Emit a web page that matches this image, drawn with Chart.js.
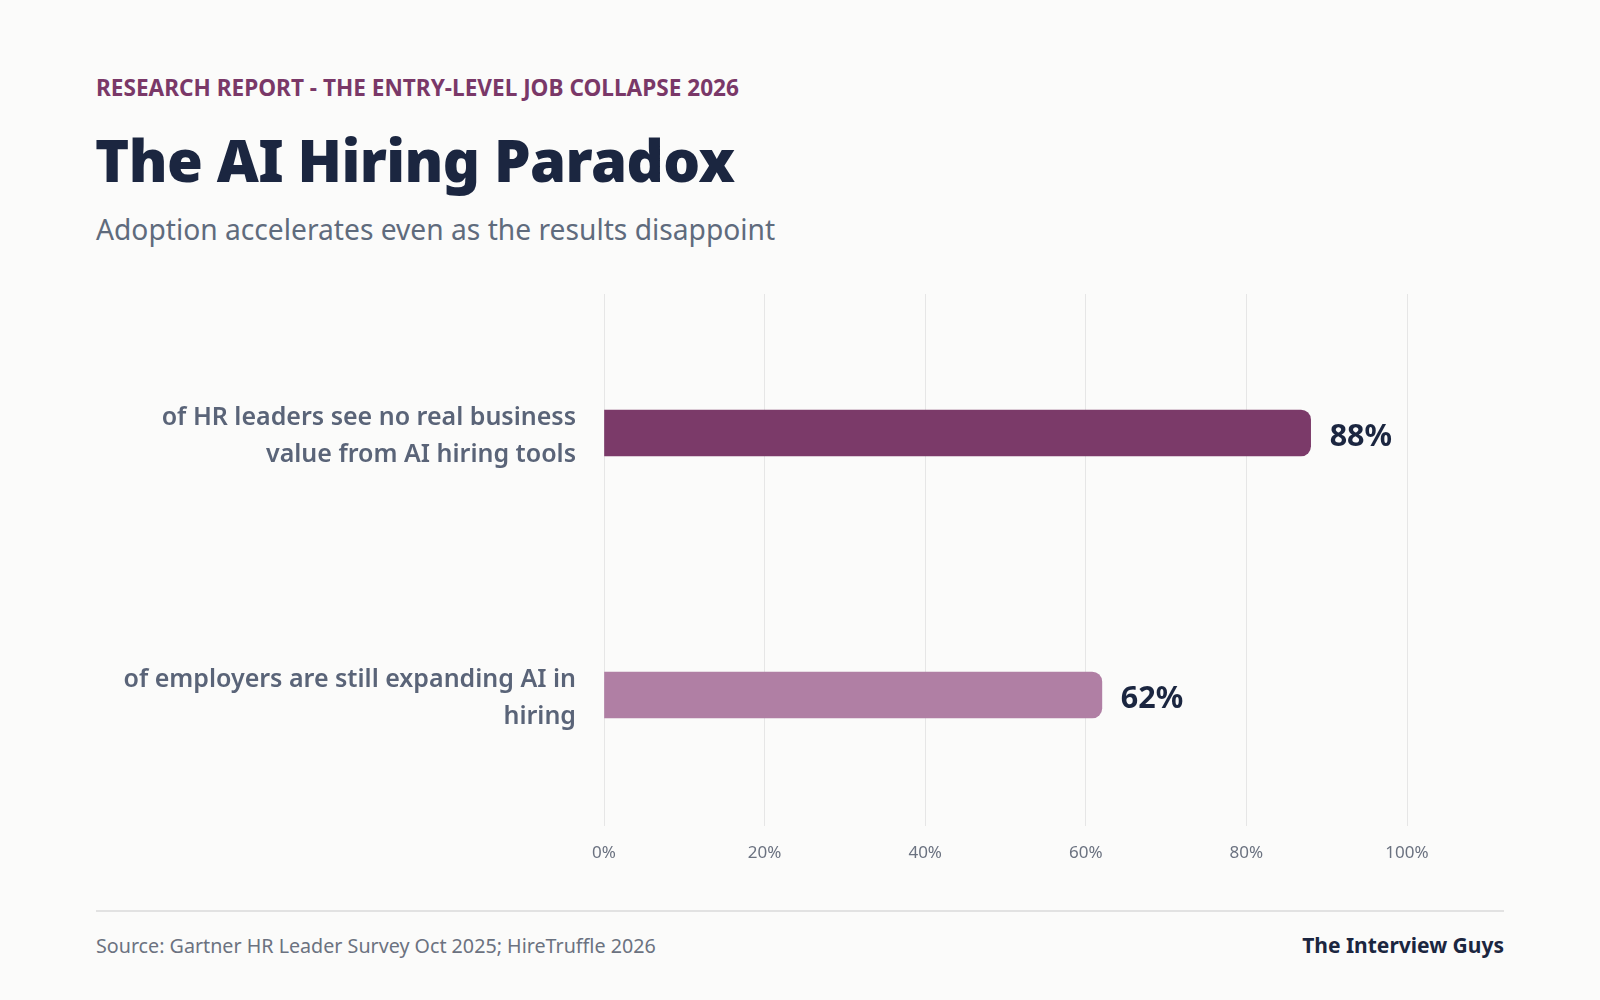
<!DOCTYPE html>
<html>
<head>
<meta charset="utf-8">
<script src="https://cdn.jsdelivr.net/npm/chart.js@4/dist/chart.umd.min.js"></script>
<style>
  html, body { margin: 0; padding: 0; background: #fbfbfa; }
  body { width: 1600px; height: 1000px; position: relative; font-family: "Noto Sans", "Open Sans", sans-serif; overflow: hidden; }
  .eyebrow { position: absolute; left: 96px; top: 72px; font-size: 22.6px; font-weight: 700; color: #7a3868; white-space: nowrap; }
  .title { position: absolute; left: 95px; top: 120px; font-size: 58px; font-weight: 900; color: #1b2640; white-space: nowrap; letter-spacing: -0.6px; }
  .subtitle { position: absolute; left: 96px; top: 210px; font-size: 28.2px; font-weight: 400; color: #5f6b7d; white-space: nowrap; }
  .chartbox { position: absolute; left: 96px; top: 270px; width: 1408px; height: 620px; }
  .rule { position: absolute; left: 96px; top: 910px; width: 1408px; height: 2px; background: #e2e2e2; }
  .source { position: absolute; left: 96px; top: 932px; font-size: 19.7px; color: #6b7280; white-space: nowrap; }
  .brand { position: absolute; right: 96px; top: 931px; font-size: 21px; font-weight: 700; color: #1b2640; white-space: nowrap; }
</style>
</head>
<body>
<div class="eyebrow">RESEARCH REPORT - THE ENTRY-LEVEL JOB COLLAPSE 2026</div>
<div class="title">The AI Hiring Paradox</div>
<div class="subtitle">Adoption accelerates even as the results disappoint</div>
<div class="chartbox"><canvas id="c" width="1408" height="620"></canvas></div>
<div class="rule"></div>
<div class="source">Source: Gartner HR Leader Survey Oct 2025; HireTruffle 2026</div>
<div class="brand">The Interview Guys</div>
<script>
const categories = [
  ["of HR leaders see no real business", "value from AI hiring tools"],
  ["of employers are still expanding AI in", "hiring"]
];
const values = [88, 62];
const barColors = ["#7b3a69", "#b07fa4"];
const tickValues = [0, 20, 40, 60, 80, 100];

const FONT = '"Noto Sans", "Open Sans", sans-serif';

const valueLabels = {
  id: 'valueLabels',
  afterDatasetsDraw(chart) {
    const ctx = chart.ctx;
    const meta = chart.getDatasetMeta(0);
    ctx.save();
    ctx.font = '700 30.5px ' + FONT;
    ctx.fillStyle = '#1b2640';
    ctx.textAlign = 'left';
    ctx.textBaseline = 'middle';
    meta.data.forEach((bar, i) => {
      ctx.fillText(values[i] + '%', bar.x + 19, bar.y + 4);
    });
    ctx.restore();
  }
};

new Chart(document.getElementById('c'), {
  type: 'bar',
  data: {
    labels: categories,
    datasets: [{
      data: values,
      backgroundColor: barColors,
      borderWidth: 0,
      borderRadius: 10,
      borderSkipped: 'start',
      barThickness: 46
    }]
  },
  plugins: [valueLabels],
  options: {
    indexAxis: 'y',
    responsive: false,
    animation: false,
    devicePixelRatio: 1,
    layout: { padding: { top: 24, right: 97, bottom: 0, left: 0 } },
    plugins: { legend: { display: false }, tooltip: { enabled: false } },
    scales: {
      x: {
        type: 'linear',
        position: 'bottom',
        min: 0,
        max: 100,
        afterBuildTicks(scale) { scale.ticks = tickValues.map(v => ({ value: v })); },
        afterFit(scale) { scale.height = 64; scale.paddingLeft = 0; scale.paddingRight = 0; },
        border: { display: false },
        grid: { color: '#e6e6e6', lineWidth: 1, drawTicks: false },
        ticks: {
          padding: 17,
          color: '#6b7280',
          font: { family: FONT, size: 17 },
          callback: v => v + '%'
        }
      },
      x2: {
        type: 'linear',
        position: 'top',
        min: 0,
        max: 100,
        afterBuildTicks(scale) { scale.ticks = tickValues.map(v => ({ value: v })); },
        afterFit(scale) { scale.height = 8; scale.paddingLeft = 0; scale.paddingRight = 0; },
        border: { display: false },
        grid: { color: '#e6e6e6', lineWidth: 1, drawOnChartArea: false, drawTicks: true, tickLength: 8 },
        ticks: { display: false }
      },
      y: {
        afterFit(scale) { scale.width = 508; scale.paddingTop = 0; scale.paddingBottom = 0; },
        border: { display: false },
        grid: { display: false, drawTicks: false },
        ticks: {
          padding: 28,
          labelOffset: 3,
          color: '#5a6478',
          font: { family: FONT, size: 25, weight: '600', lineHeight: 1.48 }
        }
      }
    }
  }
});
</script>
</body>
</html>
